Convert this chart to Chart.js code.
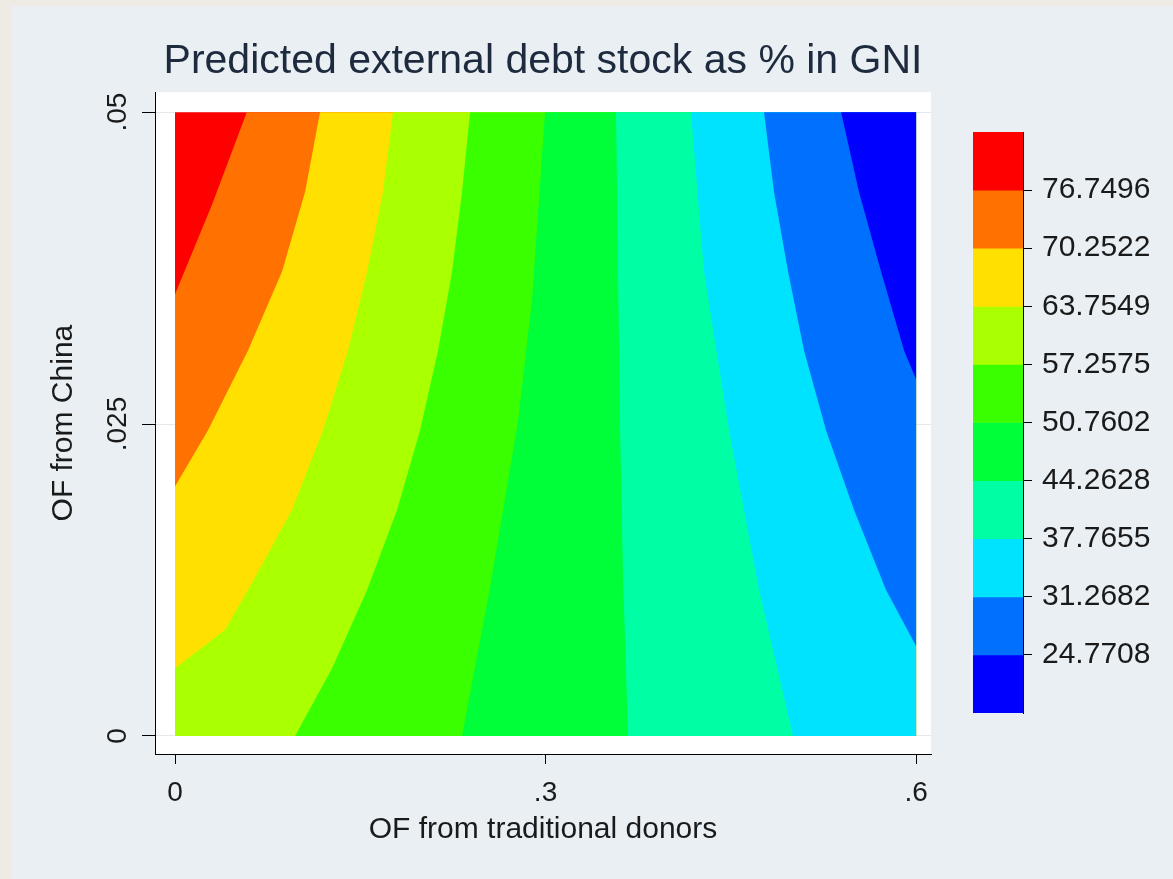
<!DOCTYPE html>
<html>
<head>
<meta charset="utf-8">
<script src="https://cdn.jsdelivr.net/npm/chart.js@4.4.1/dist/chart.umd.min.js"></script>
<style>
  html, body { margin: 0; padding: 0; }
  body { width: 1173px; height: 879px; background: #eeebe5; position: relative; overflow: hidden; }
  #panel { position: absolute; left: 12px; top: 6px; right: 0; bottom: 0; background: #e9eff2; }
  #plot { position: absolute; left: 0; top: 0; }
  #bar { position: absolute; left: 960px; top: 104px; }
</style>
</head>
<body>
<div id="panel"></div>
<canvas id="plot" width="1173" height="879"></canvas>
<canvas id="bar" width="213" height="637"></canvas>
<script>
// Stata-style contour plot: predicted debt stock over two OF sources

const FONT = "'Liberation Sans', Arial, sans-serif";

// axes
const xTicks = [0, 0.3, 0.6];
const xTickLabels = ['0', '.3', '.6'];
const yTicks = [0, 0.025, 0.05];
const yTickLabels = ['0', '.025', '.05'];

// colour bar: cut points and the z range it covers
const levels = [24.7708, 31.2682, 37.7655, 44.2628, 50.7602, 57.2575, 63.7549, 70.2522, 76.7496];
const levelLabels = ['24.7708', '31.2682', '37.7655', '44.2628', '50.7602', '57.2575', '63.7549', '70.2522', '76.7496'];
const zRange = [18.2734, 83.2470];

// band colours, highest band first
const bandColors = ['#ff0000', '#ff7100', '#ffe000', '#aaff00', '#39ff00', '#00ff39', '#00ffa5', '#00e3ff', '#0071ff', '#0000ff'];

// contour lines between neighbouring bands, [x, y]
const line1 = [[0, 0.0354], [0.030, 0.0426], [0.0581, 0.05]];
const line2 = [[0, 0.0200], [0.0267, 0.0245], [0.0591, 0.0309], [0.0866, 0.0372], [0.1053, 0.0436], [0.1174, 0.05]];
const line3 = [[0, 0.0054], [0.0405, 0.0085], [0.0591, 0.0117], [0.0947, 0.0181], [0.1198, 0.0245], [0.1401, 0.0309], [0.1555, 0.0372], [0.1684, 0.0436], [0.1765, 0.05]];
const line4 = [[0.0972, 0], [0.1271, 0.0054], [0.1555, 0.0117], [0.1798, 0.0181], [0.1984, 0.0245], [0.213, 0.0309], [0.2243, 0.0372], [0.2324, 0.0436], [0.2389, 0.05]];
const line5 = [[0.2324, 0], [0.2551, 0.0119], [0.2777, 0.0252], [0.2891, 0.035], [0.2996, 0.05]];
const line6 = [[0.3668, 0], [0.3628, 0.0125], [0.3603, 0.0249], [0.3571, 0.05]];
const line7 = [[0.5004, 0], [0.4729, 0.0117], [0.4486, 0.0245], [0.4283, 0.0372], [0.4178, 0.05]];
const line8 = [[0.6, 0.0072], [0.5757, 0.0117], [0.5498, 0.0181], [0.5271, 0.0245], [0.5093, 0.0309], [0.4964, 0.0372], [0.485, 0.0436], [0.4769, 0.05]];
const line9 = [[0.6, 0.0286], [0.5903, 0.0309], [0.5717, 0.0372], [0.5538, 0.0436], [0.5393, 0.05]];

const contourLines = [line1, line2, line3, line4, line5, line6, line7, line8, line9];

// data domain of the grid
const X0 = 0, X1 = 0.6, Y0 = 0, Y1 = 0.05;

// everything to the right of a contour line (lines run from an edge up to the top)
const regionRightOf = (pts) => {
  const [sx, sy] = pts[0];
  const out = pts.map(([x, y]) => ({ x, y }));
  out.push({ x: X1, y: Y1 });
  if (sx < X1) out.push({ x: X1, y: Y0 });
  if (sx === X0 && sy > Y0) out.push({ x: X0, y: Y0 });
  return out;
};

const polygons = [
  [{ x: X0, y: Y0 }, { x: X0, y: Y1 }, { x: X1, y: Y1 }, { x: X1, y: Y0 }],
  ...contourLines.map(regionRightOf)
];

// later bands paint over earlier ones
const datasets = polygons.map((pts, k) => ({
  data: pts,
  showLine: true,
  fill: 'shape',
  backgroundColor: bandColors[k],
  borderColor: 'transparent',
  borderWidth: 1,
  pointRadius: 0,
  tension: 0,
  order: polygons.length - k
}));

const plotBackground = {
  id: 'plotBackground',
  beforeDraw(chart) {
    const { ctx, chartArea: a } = chart;
    ctx.save();
    ctx.fillStyle = '#ffffff';
    ctx.fillRect(a.left, a.top, a.right - a.left, a.bottom - a.top);
    ctx.restore();
  }
};

new Chart(document.getElementById('plot'), {
  type: 'scatter',
  data: { datasets },
  options: {
    responsive: false,
    animation: false,
    events: [],
    layout: { padding: { left: 12, right: 242, top: 0, bottom: 0 } },
    plugins: {
      legend: { display: false },
      tooltip: { enabled: false },
      title: {
        display: true,
        text: 'Predicted external debt stock as % in GNI',
        fullSize: false,
        color: '#1e2a3e',
        font: { family: FONT, size: 41, weight: 'normal' },
        padding: { top: 37, bottom: 6 }
      }
    },
    scales: {
      x: {
        type: 'linear',
        min: -0.0162,
        max: 0.6121,
        afterBuildTicks: (s) => { s.ticks = xTicks.map((v) => ({ value: v })); },
        afterFit: (s) => { s.height = 125; },
        ticks: {
          callback: (v, i) => xTickLabels[i],
          maxRotation: 0,
          padding: 12,
          color: '#1a1a1a',
          font: { family: FONT, size: 28 }
        },
        grid: { drawOnChartArea: false, tickLength: 10, tickColor: '#000' },
        border: { color: '#000' },
        title: {
          display: true,
          text: 'OF from traditional donors',
          color: '#1a1a1a',
          font: { family: FONT, size: 30 },
          padding: { top: 0, bottom: 31 }
        }
      },
      y: {
        type: 'linear',
        min: -0.00145,
        max: 0.0516,
        afterBuildTicks: (s) => { s.ticks = yTicks.map((v) => ({ value: v })); },
        afterFit: (s) => { s.width = 143; },
        ticks: {
          callback: (v, i) => yTickLabels[i],
          minRotation: 90,
          maxRotation: 90,
          crossAlign: 'center',
          padding: -4,
          color: '#1a1a1a',
          font: { family: FONT, size: 28 }
        },
        grid: { color: '#e3e9ec', tickLength: 13, tickColor: '#000' },
        border: { color: '#000' },
        title: {
          display: true,
          text: 'OF from China',
          color: '#1a1a1a',
          font: { family: FONT, size: 30 },
          padding: { top: 34, bottom: 0 }
        }
      }
    }
  },
  plugins: [plotBackground]
});

// colour bar legend
const edges = [zRange[0], ...levels, zRange[1]];
const barSets = bandColors.map((c, k) => {
  const i = bandColors.length - 1 - k;
  return {
    data: [[edges[i], edges[i + 1]]],
    backgroundColor: c,
    borderWidth: 0,
    barPercentage: 1,
    categoryPercentage: 1,
    grouped: false
  };
});

new Chart(document.getElementById('bar'), {
  type: 'bar',
  data: { labels: [''], datasets: barSets },
  options: {
    responsive: false,
    animation: false,
    events: [],
    layout: { padding: { left: 13, top: 12, right: 0, bottom: 17 } },
    plugins: { legend: { display: false }, tooltip: { enabled: false } },
    scales: {
      x: { display: false },
      y: {
        position: 'right',
        min: zRange[0],
        max: zRange[1],
        afterBuildTicks: (s) => { s.ticks = levels.map((v) => ({ value: v })); },
        afterFit: (s) => { s.width = 150; },
        ticks: {
          callback: (v, i) => levelLabels[i],
          padding: 10,
          color: '#1a1a1a',
          font: { family: FONT, size: 30 }
        },
        grid: { drawOnChartArea: false, tickLength: 9, tickColor: '#000' },
        border: { color: '#000' }
      }
    }
  }
});
</script>
</body>
</html>
